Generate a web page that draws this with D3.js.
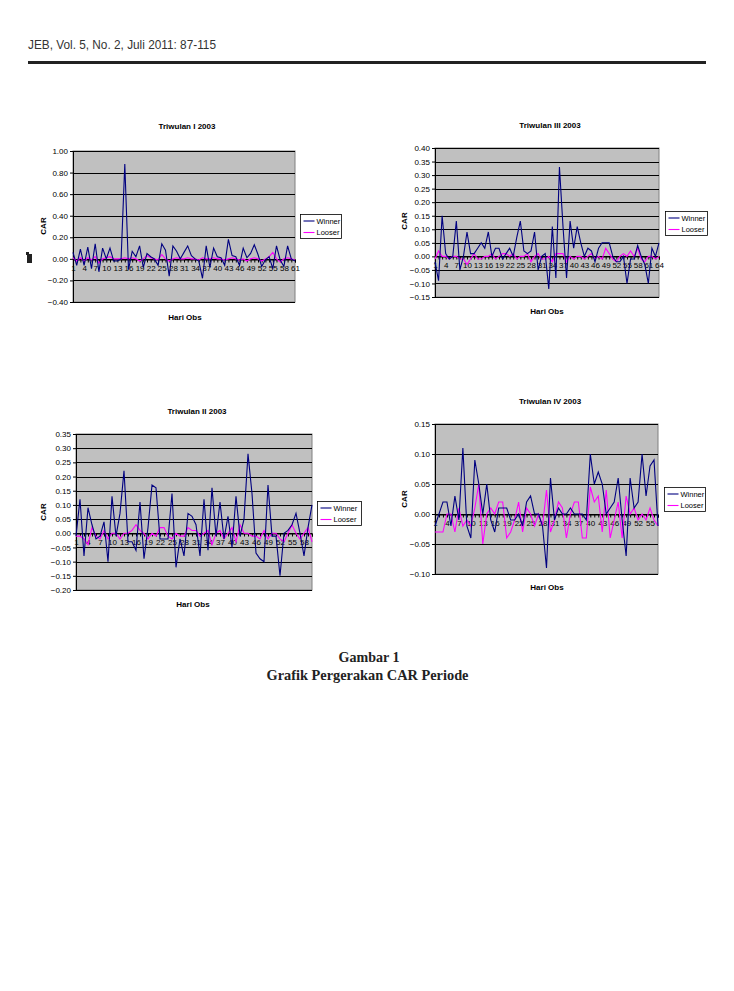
<!DOCTYPE html>
<html>
<head>
<meta charset="utf-8">
<script src="https://cdn.jsdelivr.net/npm/d3@7"></script>
<style>
  body { margin: 0; background: #fff; }
  svg { display: block; }
  text { font-family: "Liberation Sans", Arial, sans-serif; fill: #000; }
</style>
</head>
<body>
<svg width="734" height="991"></svg>
<script>
// series values (CAR per hari obs)
var winnerI = [0.06,-0.06,0.09,-0.06,0.11,-0.09,0.14,-0.12,0.10,0.00,0.10,-0.02,-0.02,0.00,0.88,-0.10,0.07,0.02,0.12,-0.08,0.05,0.02,0.00,-0.06,0.14,0.08,-0.16,0.12,0.07,0.00,0.06,0.12,0.03,0.00,-0.02,-0.18,0.12,-0.08,0.10,0.02,0.01,-0.06,0.18,0.03,0.02,-0.06,0.10,0.01,0.05,0.13,0.04,-0.07,-0.01,0.02,-0.09,0.12,-0.01,-0.07,0.12,0.00,-0.02];
var looserI = [0.01,-0.02,0.01,-0.02,0.01,-0.01,0.02,-0.04,0.00,0.01,0.02,0.00,0.00,0.00,0.01,0.00,0.01,0.00,-0.02,0.00,0.03,0.01,0.00,-0.01,0.04,0.00,-0.02,0.00,0.01,0.00,0.00,0.01,0.00,0.00,-0.01,0.01,0.00,0.00,0.01,0.00,0.00,-0.01,0.00,0.01,0.00,-0.01,0.00,-0.02,0.00,0.01,0.00,-0.02,0.00,0.02,0.06,0.00,-0.03,0.00,0.01,0.00,-0.01];

var winnerII = [-0.01,0.12,-0.08,0.09,0.03,-0.02,-0.01,0.04,-0.10,0.13,-0.01,0.07,0.22,-0.03,-0.03,-0.06,0.11,-0.09,0.02,0.17,0.16,-0.02,-0.02,-0.02,0.14,-0.12,-0.02,-0.08,0.07,0.06,0.03,-0.08,0.12,-0.06,0.16,-0.01,0.11,-0.02,0.06,-0.05,0.13,-0.01,0.05,0.28,0.14,-0.07,-0.09,-0.10,0.17,-0.01,-0.01,-0.15,0.00,0.01,0.03,0.07,0.00,-0.08,0.02,0.10];
var looserII = [-0.01,-0.01,-0.02,-0.04,0.02,-0.01,-0.02,0.01,-0.02,0.00,0.00,-0.02,0.00,0.00,0.01,0.03,0.01,0.00,-0.02,0.00,-0.01,0.02,0.02,-0.01,-0.02,0.00,-0.01,-0.01,0.02,0.01,0.01,-0.01,0.00,0.01,-0.04,0.00,0.01,-0.02,0.00,0.02,-0.03,0.03,0.00,0.00,-0.01,-0.01,-0.02,0.01,-0.02,0.00,0.00,-0.02,-0.03,0.00,0.03,0.00,-0.02,0.00,0.02,-0.03];

var winnerIII = [-0.02,-0.09,0.15,0.01,-0.01,0.00,0.13,-0.05,0.00,0.09,0.01,0.01,0.03,0.05,0.03,0.09,0.00,0.03,0.03,-0.01,0.01,0.03,0.00,0.07,0.13,0.02,0.01,0.02,0.09,-0.05,0.00,0.01,-0.12,0.11,-0.08,0.33,0.11,-0.08,0.13,0.03,0.11,0.05,0.00,0.03,0.02,-0.02,0.03,0.05,0.05,0.05,0.00,-0.02,-0.02,0.00,-0.10,-0.01,-0.01,0.04,0.00,-0.03,-0.10,0.03,0.00,0.05];
var looserIII = [-0.01,0.02,0.00,0.00,-0.01,0.00,0.00,-0.01,-0.01,-0.03,-0.01,0.01,-0.01,-0.01,0.00,0.00,0.01,-0.01,0.00,0.01,0.01,0.00,0.01,-0.01,0.00,0.00,0.01,-0.02,0.00,0.01,-0.01,-0.01,0.00,-0.02,0.01,0.01,0.01,-0.02,0.00,-0.01,0.00,0.00,-0.01,0.00,0.01,-0.01,0.00,-0.01,0.03,0.01,-0.01,-0.02,0.00,0.01,0.00,0.02,0.00,0.03,-0.01,-0.02,0.00,0.00,-0.01,0.00];

var winnerIV = [-0.02,0.00,0.02,0.02,-0.02,0.03,-0.01,0.11,-0.02,-0.04,0.09,0.05,0.00,0.05,-0.01,-0.03,0.01,0.01,0.01,-0.01,-0.01,0.00,-0.02,0.02,0.03,0.00,0.00,-0.02,-0.09,0.06,-0.01,0.01,0.00,0.00,0.01,0.00,0.00,0.00,-0.01,0.10,0.05,0.07,0.05,0.00,0.01,0.02,0.06,-0.01,-0.07,0.06,0.01,0.02,0.10,0.03,0.08,0.09,-0.02];
var looserIV = [-0.03,-0.03,-0.03,0.00,0.00,-0.03,0.01,-0.02,-0.01,-0.02,0.01,0.05,-0.05,0.00,0.01,0.00,0.02,0.02,-0.04,-0.03,-0.01,0.02,-0.03,0.01,0.00,-0.02,0.00,-0.02,0.04,-0.03,-0.01,0.02,0.01,-0.04,0.00,0.02,0.02,-0.04,-0.04,0.045,0.02,0.03,-0.03,0.04,-0.04,-0.01,0.02,-0.04,0.03,0.00,0.01,-0.01,0.00,-0.01,0.01,-0.01,-0.02];

var seriesNames = ["Winner", "Looser"];
var seriesColors = ["#000080", "#ff00ff"];

var svg = d3.select("svg");

// page header
svg.append("text").attr("x", 28).attr("y", 49)
  .attr("textLength", 188).attr("lengthAdjust", "spacingAndGlyphs")
  .style("font-size", "13px").style("fill", "#333")
  .text("JEB, Vol. 5, No. 2, Juli 2011: 87-115");
svg.append("rect").attr("x", 28).attr("y", 61).attr("width", 678).attr("height", 3).attr("fill", "#222");

// small glyph on the left margin
svg.append("rect").attr("x", 27).attr("y", 254).attr("width", 5).attr("height", 9).attr("fill", "#222");
svg.append("rect").attr("x", 26).attr("y", 252).attr("width", 3).attr("height", 3).attr("fill", "#222");

function drawChart(c) {
  var g = svg.append("g");
  var n = c.winner.length;
  var days = d3.range(1, n + 1);
  var x = d3.scaleLinear().domain([1, n]).range([c.px, c.px + c.pw]);
  var y = d3.scaleLinear().domain(c.dom).range([c.py + c.ph, c.py]);
  var yt = d3.range(c.dom[0], c.dom[1] + c.step / 2, c.step);

  g.append("rect").attr("x", c.px).attr("y", c.py).attr("width", c.pw).attr("height", c.ph)
    .attr("fill", "#c0c0c0").attr("stroke", "#808080").attr("stroke-width", 1);

  // gridlines
  g.selectAll("line.grid").data(yt).enter().append("line").attr("class", "grid")
    .attr("x1", c.px).attr("x2", c.px + c.pw)
    .attr("y1", function(d) { return Math.round(y(d)) + 0.5; })
    .attr("y2", function(d) { return Math.round(y(d)) + 0.5; })
    .attr("stroke", "#000").attr("stroke-width", 1);

  // y axis
  var ya = g.append("g").attr("transform", "translate(" + c.px + ",0)")
    .call(d3.axisLeft(y).tickValues(yt).tickFormat(d3.format(".2f")).tickSize(3).tickPadding(2));
  ya.select(".domain").attr("stroke", "#000");
  ya.selectAll("line").attr("stroke", "#000");
  ya.selectAll("text").style("font-size", "8px").style("font-family", "Liberation Sans, Arial, sans-serif");

  // category axis on zero line
  var xa = g.append("g").attr("transform", "translate(0," + (Math.round(y(0)) + 0.5) + ")")
    .call(d3.axisBottom(x).tickValues(days).tickSize(3).tickPadding(3)
      .tickFormat(function(d) { return (d - 1) % 3 === 0 ? d : ""; }));
  xa.select(".domain").attr("stroke", "#000");
  xa.selectAll("line").attr("stroke", "#000");
  xa.selectAll("text").style("font-size", "8px").style("font-family", "Liberation Sans, Arial, sans-serif");

  var line = d3.line().x(function(d, i) { return x(i + 1); }).y(function(d) { return y(d); });
  [c.looser, c.winner].forEach(function(s, k) {
    g.append("path").datum(s).attr("d", line).attr("fill", "none")
      .attr("stroke", k === 0 ? seriesColors[1] : seriesColors[0]).attr("stroke-width", 1.1);
  });

  g.append("text").attr("x", c.tx).attr("y", c.ty).attr("text-anchor", "middle")
    .style("font-size", "8px").style("font-weight", "bold").text(c.title);
  g.append("text").attr("transform", "translate(" + c.cx + "," + c.cy + ") rotate(-90)")
    .attr("text-anchor", "middle").attr("dy", "0.35em")
    .style("font-size", "8px").style("font-weight", "bold").text("CAR");
  g.append("text").attr("x", c.hx).attr("y", c.hy).attr("text-anchor", "middle").attr("dy", "0.35em")
    .style("font-size", "8px").style("font-weight", "bold").text("Hari Obs");

  // legend
  var lg = g.append("g").attr("transform", "translate(" + c.lx + "," + c.ly + ")");
  lg.append("rect").attr("width", c.lw).attr("height", 24).attr("fill", "#fff").attr("stroke", "#000").attr("stroke-width", 0.8);
  seriesNames.forEach(function(nm, i) {
    lg.append("line").attr("x1", 3).attr("x2", 14).attr("y1", 6.5 + i * 11.5).attr("y2", 6.5 + i * 11.5)
      .attr("stroke", seriesColors[i]).attr("stroke-width", 1.1);
    lg.append("text").attr("x", 16).attr("y", 6.5 + i * 11.5).attr("dy", "0.35em")
      .style("font-size", "7.5px").text(nm);
  });
}

drawChart({ winner: winnerI, looser: looserI, px: 73, py: 151, pw: 222, ph: 151, dom: [-0.4, 1.0], step: 0.2,
  title: "Triwulan I 2003", tx: 187, ty: 129, cx: 43, cy: 226, hx: 185, hy: 317, lx: 300.5, ly: 214.5, lw: 41 });
drawChart({ winner: winnerIII, looser: looserIII, px: 435, py: 148, pw: 224, ph: 149, dom: [-0.15, 0.40], step: 0.05,
  title: "Triwulan III 2003", tx: 550, ty: 128, cx: 404, cy: 221, hx: 547, hy: 311, lx: 665.5, ly: 211.5, lw: 42 });
drawChart({ winner: winnerII, looser: looserII, px: 76, py: 434, pw: 236, ph: 156, dom: [-0.20, 0.35], step: 0.05,
  title: "Triwulan II 2003", tx: 197, ty: 414, cx: 43, cy: 512, hx: 193, hy: 604, lx: 317.5, ly: 501.5, lw: 44 });
drawChart({ winner: winnerIV, looser: looserIV, px: 435, py: 424, pw: 223, ph: 150, dom: [-0.10, 0.15], step: 0.05,
  title: "Triwulan IV 2003", tx: 550, ty: 404, cx: 404, cy: 499, hx: 547, hy: 587, lx: 664.5, ly: 487.5, lw: 41 });

// caption
svg.append("text").attr("x", 369).attr("y", 662).attr("text-anchor", "middle")
  .attr("textLength", 61).attr("lengthAdjust", "spacingAndGlyphs")
  .style("font-family", "Liberation Serif, Times New Roman, serif").style("font-weight", "bold").style("font-size", "14.5px").style("fill", "#222")
  .text("Gambar 1");
svg.append("text").attr("x", 367.5).attr("y", 679.5).attr("text-anchor", "middle")
  .attr("textLength", 202).attr("lengthAdjust", "spacingAndGlyphs")
  .style("font-family", "Liberation Serif, Times New Roman, serif").style("font-weight", "bold").style("font-size", "14.5px").style("fill", "#222")
  .text("Grafik Pergerakan CAR Periode");
</script>
</body>
</html>
